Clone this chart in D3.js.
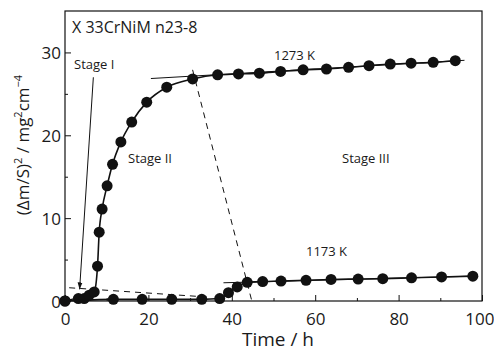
<!DOCTYPE html>
<html>
<head>
<meta charset="utf-8">
<script src="https://cdn.jsdelivr.net/npm/d3@7"></script>
<style>
  body { margin: 0; background: #fff; }
  svg text { font-family: "Open Sans", "Noto Sans", sans-serif; fill: #1a1a1a; }
</style>
</head>
<body>
<div id="chart"></div>
<script>
// data
var time1273 = [0, 3.2, 4.6, 5.8, 7.0, 7.8, 8.2, 8.9, 10.1, 11.4, 13.4, 16.0, 19.6, 24.4, 30.6,
                36.6, 41.6, 46.6, 51.7, 57.1, 62.7, 68.0, 72.9, 78.0, 83.0, 88.3, 93.6];
var mass1273 = [0, 0.3, 0.3, 0.7, 1.1, 4.2, 8.3, 11.1, 13.9, 16.5, 19.2, 21.6, 24.0, 25.8, 26.8,
                27.3, 27.4, 27.5, 27.7, 27.9, 28.0, 28.2, 28.4, 28.6, 28.7, 28.8, 29.0];
var time1173 = [0, 11.6, 18.5, 25.6, 32.8, 37.1, 39.2, 41.3, 43.7, 47.4, 51.8, 57.8, 63.8, 70.3, 76.2, 83.1, 90.3, 97.8];
var mass1173 = [0, 0.2, 0.2, 0.2, 0.2, 0.3, 1.0, 1.7, 2.25, 2.35, 2.4, 2.5, 2.6, 2.65, 2.7, 2.8, 2.9, 3.0];
var fit1273 = [[20.6, 26.85], [95.8, 29.05]];
var fit1173 = [[38, 2.2], [97.8, 3.0]];
var dashA = [[30.6, 27.9], [44.8, 0]];
var dashB = [[1.0, 1.6], [35, 0.45]];
var stageIArrow = [[6.8, 27.0], [3.5, 1.4]];
var xTicks = [0, 20, 40, 60, 80, 100];
var yTicks = [0, 10, 20, 30];

var W = 494, H = 351;
var margin = { top: 11, right: 12, bottom: 50, left: 65 };

var svg = d3.select("#chart").append("svg")
  .attr("width", W).attr("height", H);

var x = d3.scaleLinear().domain([0, 100]).range([margin.left, W - margin.right]);
var y = d3.scaleLinear().domain([0, 35]).range([H - margin.bottom, margin.top]);

var defs = svg.append("defs");
defs.append("marker").attr("id", "arr")
  .attr("viewBox", "0 0 10 10").attr("refX", 10).attr("refY", 5)
  .attr("markerWidth", 7).attr("markerHeight", 7).attr("orient", "auto")
  .append("path").attr("d", "M0,1.5L10,5L0,8.5Z").attr("fill", "#111");

// frame
svg.append("rect")
  .attr("x", x(0)).attr("y", y(35))
  .attr("width", x(100) - x(0)).attr("height", y(0) - y(35))
  .attr("fill", "none").attr("stroke", "#111").attr("stroke-width", 1.2);

// axes, ticks pointing inward
var xAx = svg.append("g").attr("transform", "translate(0," + y(0) + ")")
  .call(d3.axisBottom(x).tickValues(xTicks).tickSize(-6).tickPadding(12).tickFormat(d3.format("d")));
var xMinor = svg.append("g").attr("transform", "translate(0," + y(0) + ")")
  .call(d3.axisBottom(x).tickValues([10, 30, 50, 70, 90]).tickSize(-3).tickFormat(""));
var yAx = svg.append("g").attr("transform", "translate(" + x(0) + ",0)")
  .call(d3.axisLeft(y).tickValues(yTicks).tickSize(-6).tickPadding(4).tickFormat(d3.format("d")));
var yMinor = svg.append("g").attr("transform", "translate(" + x(0) + ",0)")
  .call(d3.axisLeft(y).tickValues([5, 15, 25]).tickSize(-3).tickFormat(""));

[xAx, xMinor, yAx, yMinor].forEach(function(g){
  g.select(".domain").remove();
  g.selectAll(".tick line").attr("stroke", "#111").attr("stroke-width", 1);
  g.selectAll("text").attr("font-size", 17).attr("fill", "#1a1a1a")
    .style("font-family", "'Open Sans', sans-serif");
});
yAx.selectAll("text").attr("dy", "0.36em");
// keep the last x label inside the window
xAx.selectAll(".tick text").filter(function(d){ return d === 100; })
  .attr("text-anchor", "end").attr("x", W - x(100));

// axis titles
svg.append("text")
  .attr("x", 278).attr("y", 346).attr("text-anchor", "middle")
  .attr("font-size", 19).text("Time / h");

var yt = svg.append("text")
  .attr("transform", "translate(29,145) rotate(-90)")
  .attr("text-anchor", "middle").attr("font-size", 17);
yt.append("tspan").text("(\u0394m/S)");
yt.append("tspan").attr("font-size", 11).attr("dy", -7).text("2");
yt.append("tspan").attr("dy", 7).text(" / mg");
yt.append("tspan").attr("font-size", 11).attr("dy", -7).text("2");
yt.append("tspan").attr("dy", 7).text("cm");
yt.append("tspan").attr("font-size", 11).attr("dy", -7).text("\u22124");

var line = d3.line().x(function(d){ return x(d[0]); }).y(function(d){ return y(d[1]); });
var curve = d3.line().x(function(d){ return x(d[0]); }).y(function(d){ return y(d[1]); })
  .curve(d3.curveMonotoneX);

// helper lines
[fit1273, fit1173].forEach(function(f){
  svg.append("path").attr("d", line(f)).attr("fill", "none")
    .attr("stroke", "#111").attr("stroke-width", 1);
});
[dashA, dashB].forEach(function(f){
  svg.append("path").attr("d", line(f)).attr("fill", "none")
    .attr("stroke", "#111").attr("stroke-width", 1).attr("stroke-dasharray", "6,5");
});
svg.append("path").attr("d", line(stageIArrow)).attr("fill", "none")
  .attr("stroke", "#111").attr("stroke-width", 1).attr("marker-end", "url(#arr)");

// series
var series = [
  d3.zip(time1273, mass1273),
  d3.zip(time1173, mass1173)
];
series.forEach(function(s){
  svg.append("path").attr("d", curve(s)).attr("fill", "none")
    .attr("stroke", "#111").attr("stroke-width", 1.6);
  svg.selectAll(null).data(s).enter().append("circle")
    .attr("cx", function(d){ return x(d[0]); })
    .attr("cy", function(d){ return y(d[1]); })
    .attr("r", 5.5).attr("fill", "#111");
});

// labels
var labels = [
  { t: "X 33CrNiM n23-8", x: 72, y: 33, s: 16 },
  { t: "Stage I", x: 74, y: 69, s: 13 },
  { t: "Stage II", x: 128, y: 163, s: 13 },
  { t: "Stage III", x: 342, y: 163, s: 13 },
  { t: "1273 K", x: 274, y: 60, s: 13 },
  { t: "1173 K", x: 306, y: 256, s: 13 }
];
labels.forEach(function(l){
  svg.append("text").attr("x", l.x).attr("y", l.y).attr("font-size", l.s).text(l.t);
});
</script>
</body>
</html>
